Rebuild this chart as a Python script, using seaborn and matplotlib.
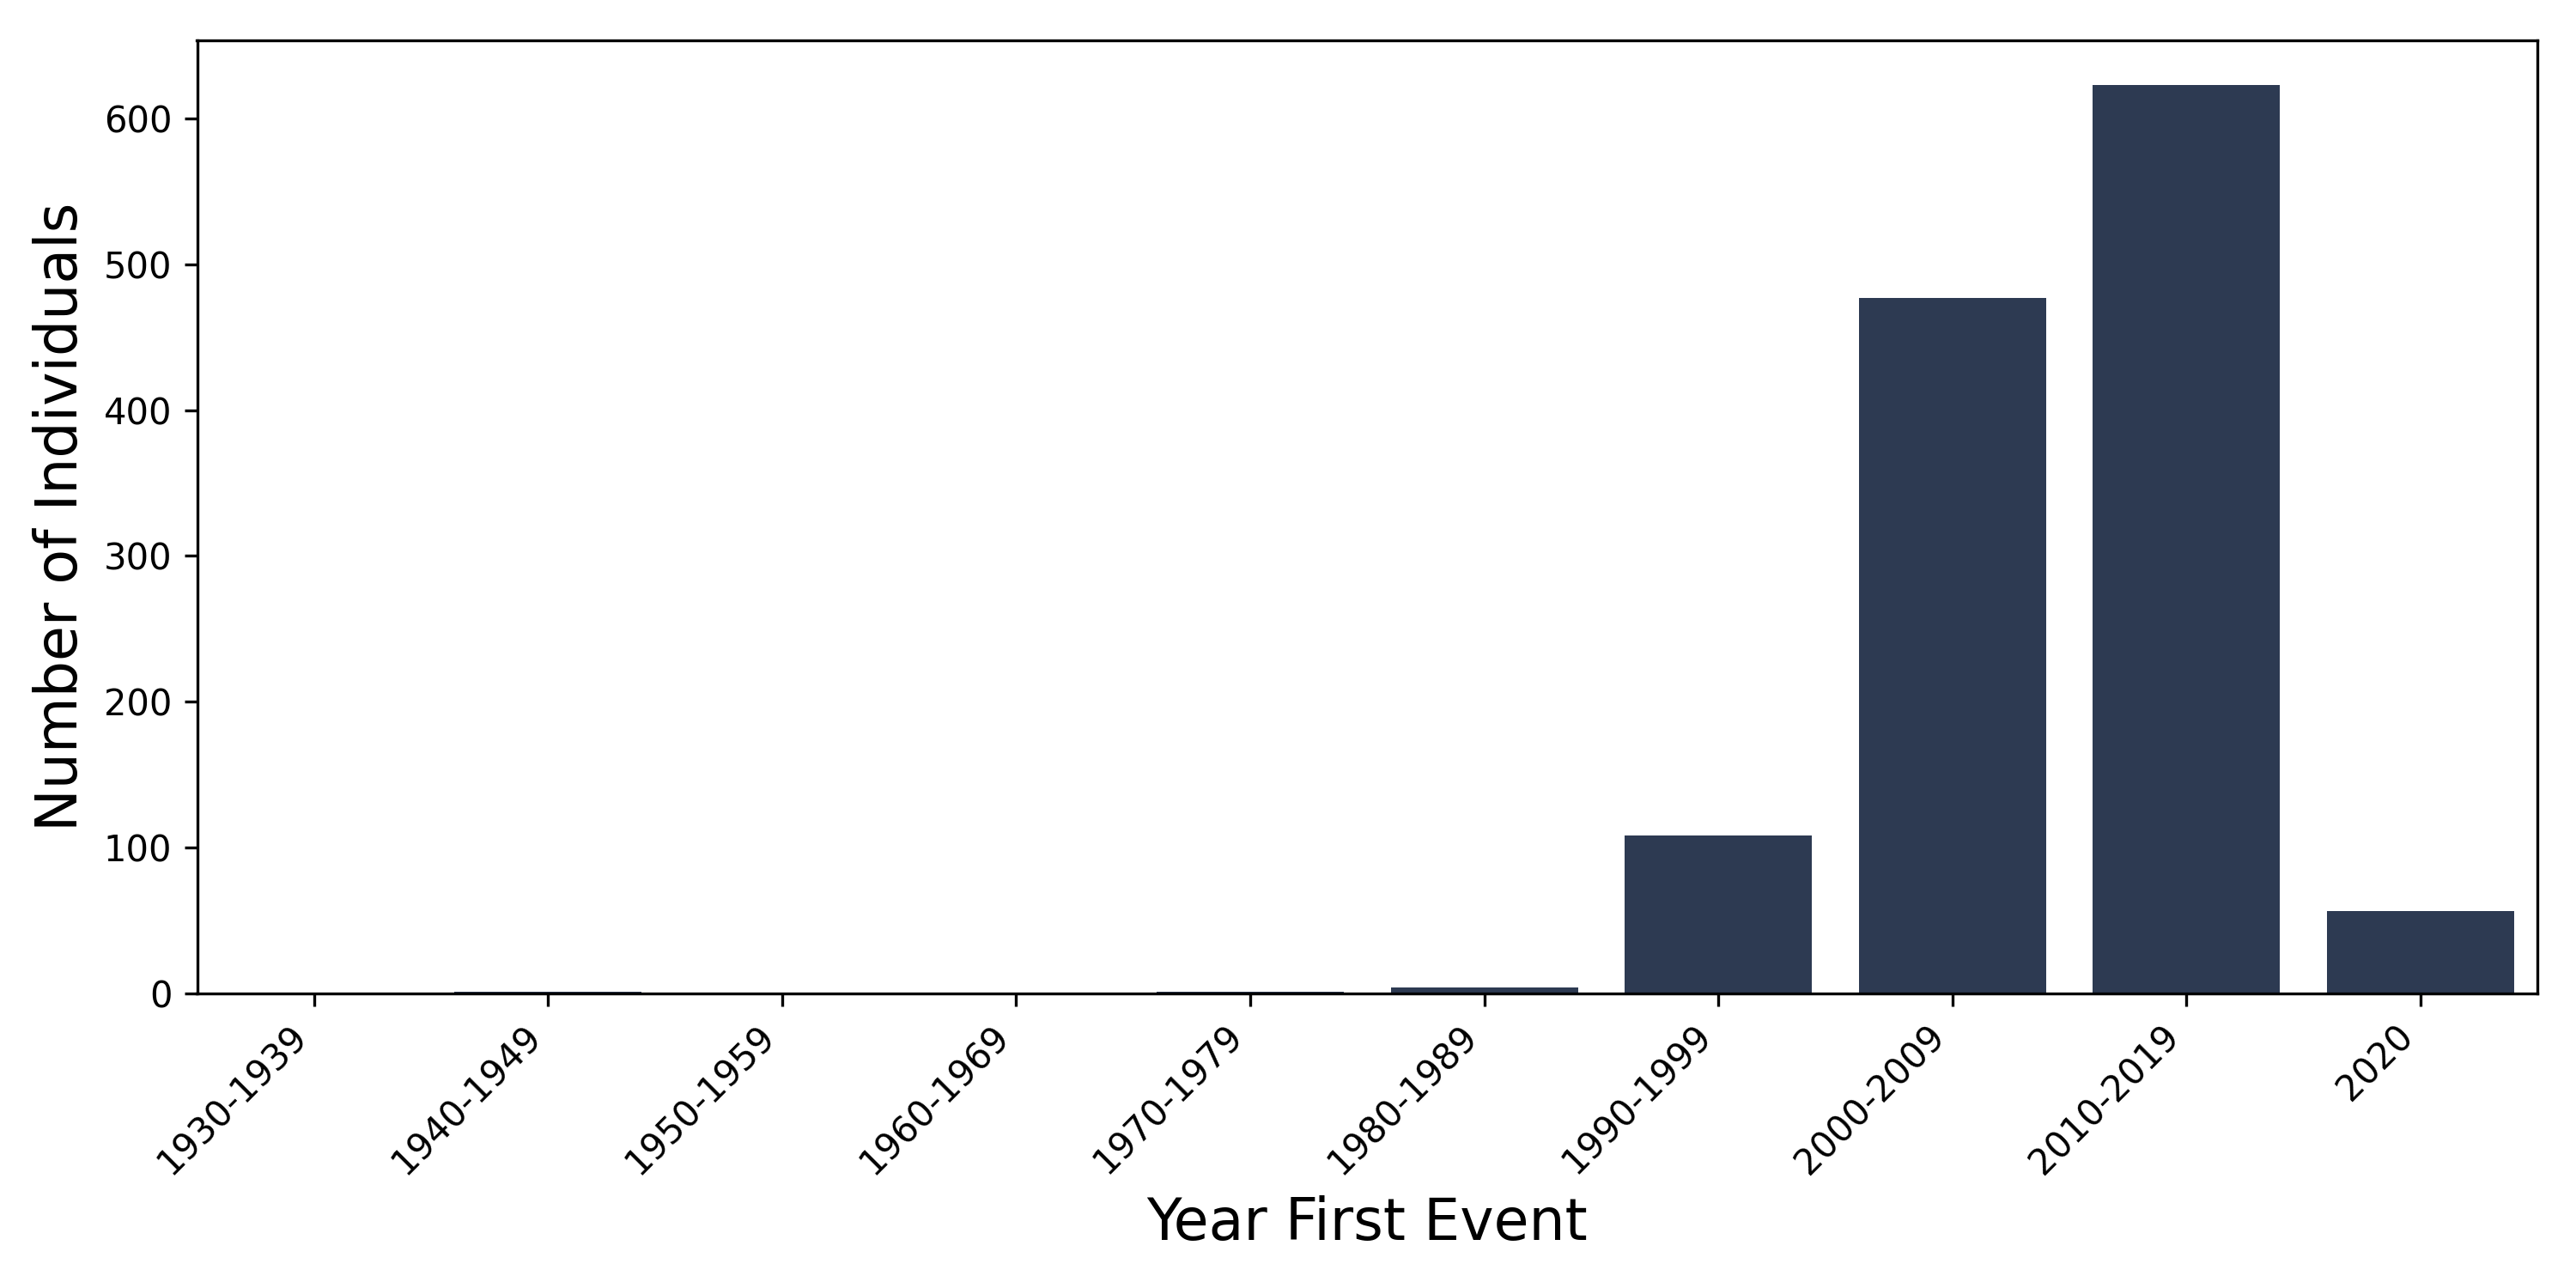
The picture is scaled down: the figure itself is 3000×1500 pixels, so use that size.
import pandas as pd
import matplotlib
matplotlib.use("Agg")
import matplotlib.pyplot as plt
import seaborn as sns

decades = ["1930-1939", "1940-1949", "1950-1959", "1960-1969", "1970-1979",
           "1980-1989", "1990-1999", "2000-2009", "2010-2019", "2020"]
counts = [0, 1, 0, 0, 1, 4, 108, 477, 623, 56]

df = pd.DataFrame({"decade": decades, "count": counts})

# plain matplotlib look: black spines, ticks and text
plt.rcParams['font.family'] = ['DejaVu Sans']

fig, ax = plt.subplots(figsize=(10, 5), dpi=300)
sns.barplot(data=df, x="decade", y="count", color="#2d3a52", saturation=1,
            linewidth=0, ax=ax)
ax.set_xlabel("Year First Event", fontsize=16)
ax.set_ylabel("Number of Individuals", fontsize=16)
ax.tick_params(labelsize=10)
plt.setp(ax.get_xticklabels(), rotation=45, ha="right")
fig.subplots_adjust(left=0.0765, right=0.985, bottom=0.229, top=0.969)
plt.savefig("out.png", dpi=300)
plt.close()
